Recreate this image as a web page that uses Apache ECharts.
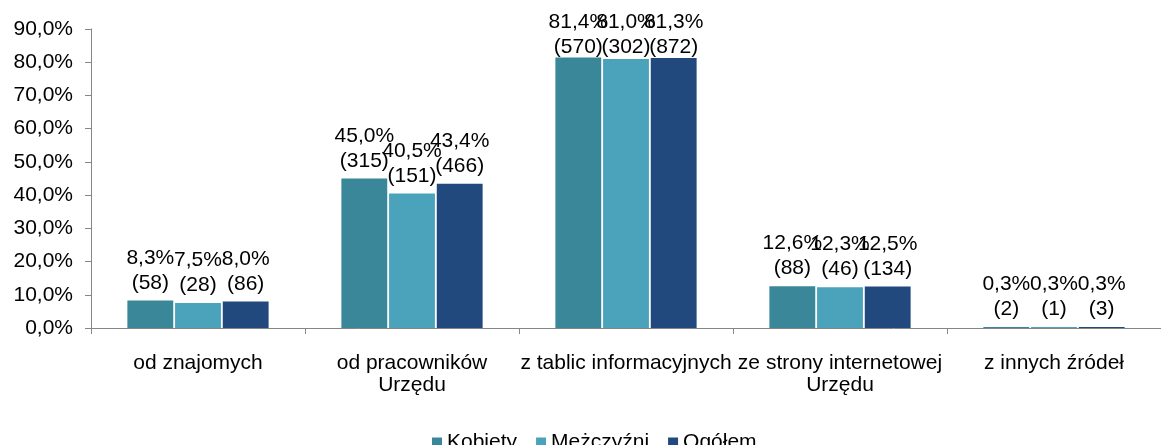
<!DOCTYPE html>
<html>
<head>
<meta charset="utf-8">
<script src="https://cdn.jsdelivr.net/npm/echarts@6/dist/echarts.min.js"></script>
<style>
  html, body { margin: 0; padding: 0; background: #fff; }
  #chart { width: 1161px; height: 445px; }
</style>
</head>
<body>
<div id="chart"></div>
<script>
// kategorie źródeł informacji
const categories = ['od znajomych', 'od pracowników\nUrzędu', 'z tablic informacyjnych', 'ze strony internetowej\nUrzędu', 'z innych źródeł'];
const seriesNames = ['Kobiety', 'Mężczyźni', 'Ogółem'];

// odsetki (%)
const kobiety = [8.3, 45.0, 81.4, 12.6, 0.3];
const mezczyzni = [7.5, 40.5, 81.0, 12.3, 0.3];
const ogolem = [8.0, 43.4, 81.3, 12.5, 0.3];

// liczebności
const kobietyN = [58, 315, 570, 88, 2];
const mezczyzniN = [28, 151, 302, 46, 1];
const ogolemN = [86, 466, 872, 134, 3];

const colors = ['#3A8799', '#4AA3BB', '#22497D'];
const font = 'Liberation Sans, Arial, sans-serif';

const fmt = v => v.toFixed(1).replace('.', ',') + '%';

function makeSeries(name, values, counts, color) {
  return {
    name: name,
    type: 'bar',
    data: values,
    barGap: '4%',
    barCategoryGap: '34%',
    itemStyle: { color: color },
    label: {
      show: true,
      position: 'top',
      distance: 5,
      color: '#000',
      fontFamily: font,
      fontSize: 21,
      lineHeight: 25,
      formatter: p => fmt(p.value) + '\n(' + counts[p.dataIndex] + ')'
    },
    // etykiety nie wychodzą poza górną krawędź
    labelLayout: p => (p.labelRect.y < 10 ? { dy: 10 - p.labelRect.y } : {})
  };
}

const chart = echarts.init(document.getElementById('chart'));
chart.setOption({
  animation: false,
  textStyle: { fontFamily: font },
  grid: { left: 91, top: 29, width: 1081, bottom: 117, containLabel: false },
  legend: {
    data: seriesNames,
    top: 427,
    left: 427,
    itemWidth: 10,
    itemHeight: 10,
    itemGap: 19,
    icon: 'rect',
    textStyle: { fontSize: 21, color: '#000', fontFamily: font }
  },
  xAxis: {
    type: 'category',
    data: categories,
    axisLine: { lineStyle: { color: '#868686' } },
    axisTick: { show: true, length: 6, lineStyle: { color: '#868686' } },
    axisLabel: { interval: 0, color: '#000', fontSize: 21, lineHeight: 22, margin: 24, fontFamily: font }
  },
  yAxis: {
    type: 'value',
    min: 0,
    max: 90,
    interval: 10,
    splitLine: { show: false },
    axisLine: { show: true, lineStyle: { color: '#868686' } },
    axisTick: { show: true, length: 6, lineStyle: { color: '#868686' } },
    axisLabel: { color: '#000', fontSize: 21, margin: 18, fontFamily: font, formatter: v => fmt(v) }
  },
  series: [
    makeSeries(seriesNames[0], kobiety, kobietyN, colors[0]),
    makeSeries(seriesNames[1], mezczyzni, mezczyzniN, colors[1]),
    makeSeries(seriesNames[2], ogolem, ogolemN, colors[2])
  ]
});
</script>
</body>
</html>
